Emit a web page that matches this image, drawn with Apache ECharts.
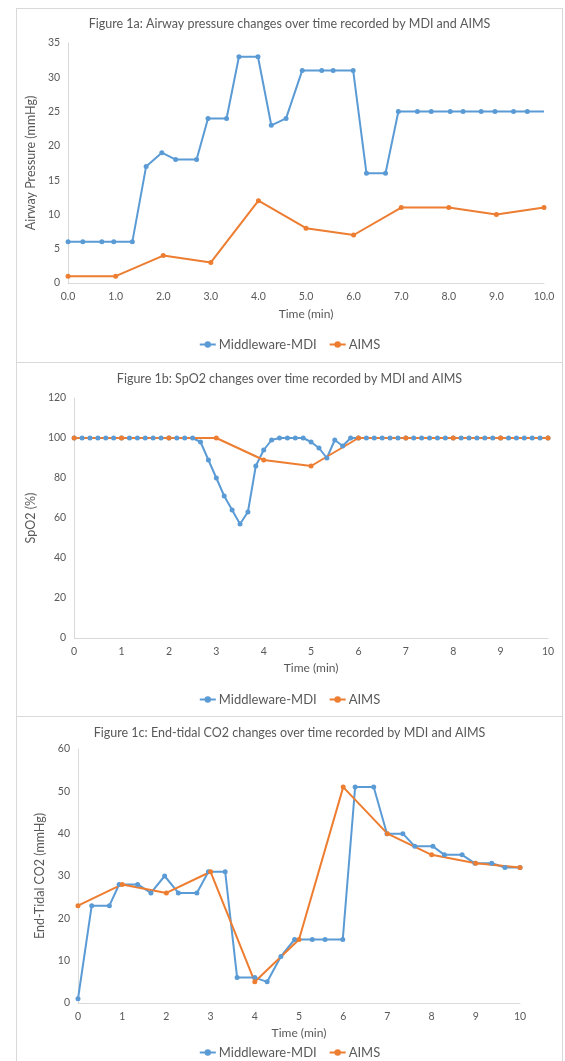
<!DOCTYPE html>
<html><head><meta charset="utf-8">
<script src="https://cdn.jsdelivr.net/npm/echarts@6/dist/echarts.min.js"></script>
<style>
html,body{margin:0;padding:0;background:#fff;width:565px;height:1061px;overflow:hidden}
.c{position:absolute;left:16px;width:547px}
.b{position:absolute;left:16px;width:547px;box-sizing:border-box;border:1px solid #d9d9d9;pointer-events:none;z-index:5}
</style></head><body>
<div id="c1" class="c" style="top:8px;height:355px"></div>
<div id="c2" class="c" style="top:362px;height:355px"></div>
<div id="c3" class="c" style="top:716px;height:345px"></div>
<div class="b" style="top:8px;height:355px"></div>
<div class="b" style="top:362px;height:355px"></div>
<div class="b" style="top:716px;height:360px"></div>
<script>
// ---------- Data ----------
const seriesNames = ['Middleware-MDI', 'AIMS'];

// Figure 1a: Airway pressure
const pressureTitle = 'Figure 1a: Airway pressure changes over time recorded by MDI and AIMS';
const pressureMdiTime = [0, 0.31, 0.71, 0.96, 1.35, 1.64, 1.97, 2.26, 2.70, 2.94, 3.33, 3.59, 3.99, 4.27, 4.58, 4.92, 5.33, 5.57, 5.99, 6.27, 6.67, 6.94, 7.34, 7.63, 8.03, 8.30, 8.68, 8.97, 9.36, 9.65, 10.0];
const pressureMdi = [6, 6, 6, 6, 6, 17, 19, 18, 18, 24, 24, 33, 33, 23, 24, 31, 31, 31, 31, 16, 16, 25, 25, 25, 25, 25, 25, 25, 25, 25, 25];
const pressureAimsTime = [0, 1, 2, 3, 4, 5, 6, 7, 8, 9, 10];
const pressureAims = [1, 1, 4, 3, 12, 8, 7, 11, 11, 10, 11];

// Figure 1b: SpO2
const spo2Title = 'Figure 1b: SpO2 changes over time recorded by MDI and AIMS';
const spo2MdiSeconds = [0, 10, 20, 30, 40, 50, 60, 70, 80, 90, 100, 110, 120, 130, 140, 150, 160, 170, 180, 190, 200, 210, 220, 230, 240, 250, 260, 270, 280, 290, 300, 310, 320, 330, 340, 350, 360, 370, 380, 390, 400, 410, 420, 430, 440, 450, 460, 470, 480, 490, 500, 510, 520, 530, 540, 550, 560, 570, 580, 590, 600];
const spo2Mdi = [100, 100, 100, 100, 100, 100, 100, 100, 100, 100, 100, 100, 100, 100, 100, 100, 98, 89, 80, 71, 64, 57, 63, 86, 94, 99, 100, 100, 100, 100, 98, 95, 90, 99, 96, 100, 100, 100, 100, 100, 100, 100, 100, 100, 100, 100, 100, 100, 100, 100, 100, 100, 100, 100, 100, 100, 100, 100, 100, 100, 100];
const spo2AimsTime = [0, 1, 2, 3, 4, 5, 6, 7, 8, 9, 10];
const spo2Aims = [100, 100, 100, 100, 89, 86, 100, 100, 100, 100, 100];

// Figure 1c: End-tidal CO2
const co2Title = 'Figure 1c: End-tidal CO2 changes over time recorded by MDI and AIMS';
const co2MdiTime = [0, 0.31, 0.71, 0.93, 1.35, 1.65, 1.96, 2.27, 2.69, 2.95, 3.33, 3.60, 4.00, 4.28, 4.59, 4.90, 5.30, 5.59, 5.99, 6.27, 6.69, 6.99, 7.35, 7.62, 8.03, 8.29, 8.69, 8.98, 9.36, 9.66, 10.0];
const co2Mdi = [1, 23, 23, 28, 28, 26, 30, 26, 26, 31, 31, 6, 6, 5, 11, 15, 15, 15, 15, 51, 51, 40, 40, 37, 37, 35, 35, 33, 33, 32, 32];
const co2AimsTime = [0, 1, 2, 3, 4, 5, 6, 7, 8, 9, 10];
const co2Aims = [23, 28, 26, 31, 5, 15, 51, 40, 35, 33, 32];

// ---------- Styling ----------
const FONT = 'Lato, "Liberation Sans", sans-serif';
const TXT = '#595959';
const AX = '#d9d9d9';
const BLUE = '#5b9bd5';
const ORANGE = '#ed7d31';

function pairs(xs, ys) { return xs.map((x, i) => [x, ys[i]]); }

function makeOption(o) {
  return {
    animation: false,
    textStyle: { fontFamily: FONT },
    title: {
      text: o.title, left: 'center', top: o.titleTop, padding: 0,
      textStyle: { fontFamily: FONT, fontSize: 12.5, fontWeight: 'normal', color: TXT }
    },
    legend: {
      data: seriesNames, top: o.legendTop, left: 'center', padding: 0,
      itemWidth: 16, itemHeight: 8, itemGap: 12,
      textStyle: { fontFamily: FONT, fontSize: 13, color: TXT, padding: [0, 0, 0, -2] }
    },
    grid: { left: o.grid[0], right: o.grid[1], top: o.grid[2], bottom: o.grid[3] },
    xAxis: {
      type: 'value', min: 0, max: 10, interval: 1,
      name: 'Time (min)', nameLocation: 'middle', nameGap: o.xNameGap,
      nameTextStyle: { fontFamily: FONT, fontSize: 12, color: TXT },
      axisLine: { show: true, lineStyle: { color: AX, width: 1 } },
      axisTick: { show: false }, splitLine: { show: false },
      axisLabel: { fontFamily: FONT, fontSize: 10.5, color: TXT, margin: 8, formatter: o.xFmt }
    },
    yAxis: {
      type: 'value', min: 0, max: o.yMax, interval: o.yInt,
      name: o.yName, nameLocation: 'middle', nameGap: o.yNameGap, nameRotate: 90,
      nameTextStyle: { fontFamily: FONT, fontSize: 12.5, color: TXT },
      axisLine: { show: true, lineStyle: { color: AX, width: 1 } },
      axisTick: { show: false }, splitLine: { show: false },
      axisLabel: { fontFamily: FONT, fontSize: 10.5, color: TXT, margin: 8 }
    },
    series: [
      {
        name: seriesNames[0], type: 'line', data: o.mdi,
        symbol: 'circle', symbolSize: 5,
        lineStyle: { color: BLUE, width: 2 }, itemStyle: { color: BLUE }
      },
      {
        name: seriesNames[1], type: 'line', data: o.aims,
        symbol: 'circle', symbolSize: 5,
        lineStyle: { color: ORANGE, width: 2 }, itemStyle: { color: ORANGE }
      }
    ]
  };
}

// Figure 1a
const mdi1 = pairs(pressureMdiTime, pressureMdi).map((p, i, a) =>
  i === a.length - 1 ? { value: p, symbol: 'none' } : p);
echarts.init(document.getElementById('c1')).setOption(makeOption({
  title: pressureTitle, titleTop: 9, legendTop: 330,
  grid: [50, 19, 35, 80], xNameGap: 25, yNameGap: 24,
  xFmt: v => v.toFixed(1), yMax: 35, yInt: 5, yName: 'Airway Pressure (mmHg)',
  mdi: mdi1, aims: pairs(pressureAimsTime, pressureAims)
}));

// Figure 1b
echarts.init(document.getElementById('c2')).setOption(makeOption({
  title: spo2Title, titleTop: 10, legendTop: 331,
  grid: [55, 15, 36, 79], xNameGap: 24, yNameGap: 28,
  xFmt: v => String(v), yMax: 120, yInt: 20, yName: 'SpO2 (%)',
  mdi: pairs(spo2MdiSeconds.map(s => s / 60), spo2Mdi), aims: pairs(spo2AimsTime, spo2Aims)
}));

// Figure 1c
echarts.init(document.getElementById('c3')).setOption(makeOption({
  title: co2Title, titleTop: 10, legendTop: 330,
  grid: [62, 43, 33, 58], xNameGap: 24, yNameGap: 23,
  xFmt: v => String(v), yMax: 60, yInt: 10, yName: 'End-Tidal CO2 (mmHg)',
  mdi: pairs(co2MdiTime, co2Mdi), aims: pairs(co2AimsTime, co2Aims)
}));
</script>
</body></html>
